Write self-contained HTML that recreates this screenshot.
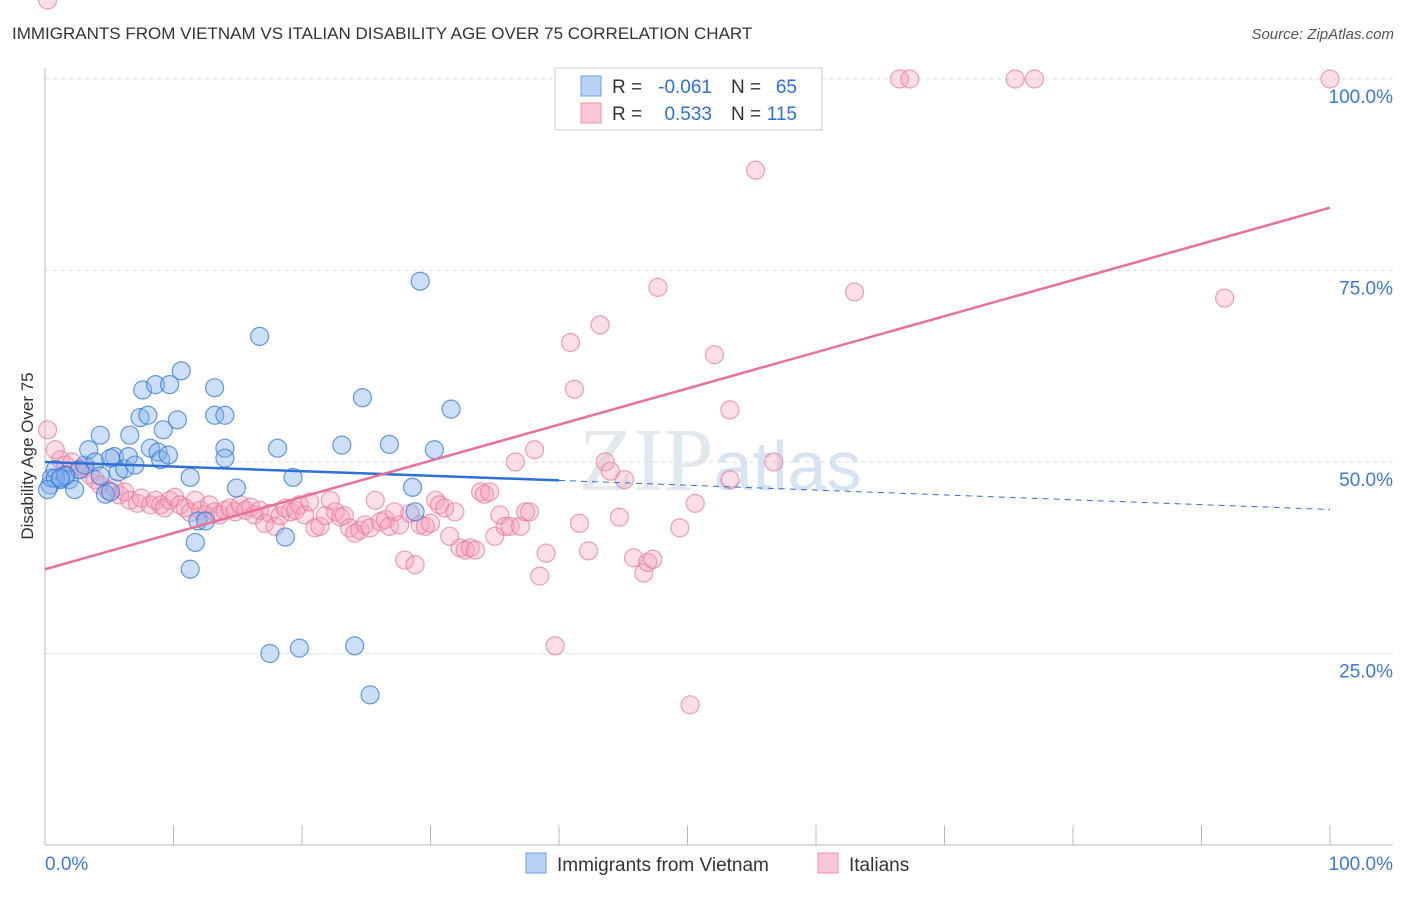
<!DOCTYPE html>
<html><head><meta charset="utf-8"><style>
body{margin:0;background:#fff;font-family:"Liberation Sans",sans-serif}
</style></head><body>
<svg id="c" width="1406" height="892" xmlns="http://www.w3.org/2000/svg" style="font-family:'Liberation Sans',sans-serif">
<text x="12" y="39" font-size="17" fill="#333">IMMIGRANTS FROM VIETNAM VS ITALIAN DISABILITY AGE OVER 75 CORRELATION CHART</text>
<text x="1394" y="39" font-size="15" fill="#555" text-anchor="end" font-style="italic">Source: ZipAtlas.com</text>
<text x="720" y="490" font-size="90" fill="#e3e8ee" text-anchor="middle" font-family="Liberation Serif">ZIP<tspan fill="#d5e3f3" font-family="Liberation Sans" font-size="70">atlas</tspan></text>
<g id="grid"></g><g id="pts"></g><g id="lines"></g>
<text transform="translate(33,456) rotate(-90)" font-size="17" fill="#333" text-anchor="middle">Disability Age Over 75</text>
<g>
<rect x="555" y="68" width="267" height="62" fill="#fff" stroke="#ccc"/>
<rect x="581" y="76" width="20" height="20" fill="#b8d2f5" stroke="#6f9fe0"/>
<rect x="581" y="103" width="20" height="20" fill="#f9c7d5" stroke="#ec8fab"/>
<text x="612" y="93" font-size="19" fill="#333">R =</text>
<text x="712" y="93" font-size="19" fill="#2f6fd6" text-anchor="end">-0.061</text>
<text x="731" y="93" font-size="19" fill="#333">N =</text>
<text x="797" y="93" font-size="19" fill="#2f6fd6" text-anchor="end">65</text>
<text x="612" y="120" font-size="19" fill="#333">R =</text>
<text x="712" y="120" font-size="19" fill="#2f6fd6" text-anchor="end">0.533</text>
<text x="731" y="120" font-size="19" fill="#333">N =</text>
<text x="797" y="120" font-size="19" fill="#2f6fd6" text-anchor="end">115</text>
</g>
<g>
<rect x="526" y="853" width="20" height="20" fill="#b8d2f5" stroke="#6f9fe0"/>
<text x="557" y="871" font-size="19" fill="#333">Immigrants from Vietnam</text>
<rect x="818" y="853" width="20" height="20" fill="#f9c7d5" stroke="#ec8fab"/>
<text x="849" y="871" font-size="19" fill="#333">Italians</text>
</g>
</svg>
<script>
const yTicks=[25,50,75,100];
const yTickLabels=["25.0%","50.0%","75.0%","100.0%"];
const xTickLabels=["0.0%","100.0%"];
const blueX=[0.4,0.5,0.8,1.2,1.6,1.9,2.3,2.7,3.1,3.4,3.9,4.3,4.7,5.1,5.4,5.7,6.2,6.5,6.6,7.0,7.4,7.6,8.0,8.2,8.6,8.8,9.0,9.2,9.6,9.7,10.3,10.6,11.3,11.7,11.9,12.5,11.3,13.2,13.2,14.0,14.0,14.0,14.9,16.7,17.5,18.1,18.7,19.3,19.8,23.1,24.1,24.7,25.3,26.8,28.6,28.8,29.2,30.3,31.6,0.8,1.6,4.3,5.1,0.2,1.2];
const blueY=[47.0,47.9,49.0,47.7,48.3,47.7,46.4,49.0,49.6,51.6,50.0,53.5,45.8,46.1,50.7,48.7,49.1,50.7,53.5,49.6,55.8,59.4,56.1,51.8,60.1,51.3,50.3,54.2,50.9,60.1,55.5,61.9,48.0,39.5,42.3,42.3,36.0,59.7,56.1,56.1,51.8,50.5,46.6,66.4,25.0,51.8,40.2,48.0,25.7,52.2,26.0,58.4,19.6,52.3,46.7,43.5,73.6,51.6,56.9,47.9,48.2,48.2,50.5,46.4,47.9];
const pinkX=[0.2,0.8,1.2,1.6,2.1,2.6,3.1,3.5,3.9,4.3,4.9,5.4,5.8,6.2,6.6,7.2,7.5,8.2,8.6,9.0,9.3,9.7,10.1,10.5,10.9,11.3,11.7,12.1,12.5,12.8,13.2,13.6,14.0,14.4,14.8,15.2,15.6,16.0,16.3,16.7,17.1,17.5,17.9,18.3,18.7,19.1,19.5,19.8,20.2,20.6,21.0,21.4,21.8,22.2,22.6,23.0,23.3,23.7,24.1,24.5,24.9,25.3,25.7,26.1,26.5,26.8,27.2,27.6,28.0,28.4,28.8,29.2,29.6,30.0,30.4,30.7,31.1,31.5,31.9,32.3,32.7,33.1,33.5,33.9,34.2,34.6,35.0,35.4,35.8,36.2,36.6,37.0,37.4,37.7,38.1,38.5,39.0,39.7,40.9,41.2,41.6,42.3,43.2,43.6,44.0,44.7,45.1,45.8,46.6,46.9,47.3,47.7,49.4,50.2,50.6,52.1,53.3,55.3,56.7,63.0,66.5,67.3,75.5,77.0,91.8,100,54.1,58.0,53.3,0.2];
const pinkY=[54.2,51.6,50.3,49.6,50.0,49.0,49.2,48.3,47.7,47.0,46.3,46.6,45.7,46.1,45.0,44.6,45.3,44.4,45.0,44.4,44.0,45.0,45.4,44.4,44.0,43.4,45.0,43.7,43.1,44.4,43.5,43.1,43.7,44.0,43.5,44.4,43.7,44.1,43.1,43.7,42.0,43.3,41.6,43.0,44.0,43.5,43.7,44.4,43.1,44.8,41.4,41.6,43.0,45.0,43.5,42.8,43.0,41.4,40.7,41.1,41.8,41.4,45.0,42.2,42.5,41.6,43.5,41.8,37.2,43.3,36.6,41.8,41.6,42.0,45.0,44.4,44.0,40.3,43.5,38.8,38.5,38.8,38.5,46.1,45.8,46.1,40.3,43.1,41.6,41.6,50.0,41.6,43.5,43.5,51.6,35.1,38.1,26.0,65.6,59.5,42.0,38.4,67.9,50.0,48.8,42.8,47.7,37.5,35.5,36.9,37.3,72.8,41.4,18.3,44.6,64.0,56.8,88.1,50.0,72.2,100,100,100,100,71.4,100,100,100,47.7];
const px=v=>45+v*12.85, py=v=>845-v*7.66;
const ns="http://www.w3.org/2000/svg";
function mk(t,a,p){const e=document.createElementNS(ns,t);for(const k in a)e.setAttribute(k,a[k]);p.appendChild(e);return e;}
const g=document.getElementById('grid');
yTicks.forEach((v,i)=>{
 const l=mk('line',{x1:45,x2:1393,y1:py(v),y2:py(v),stroke:'#ddd','stroke-dasharray':'4,4'},g);
 
 
 const t=mk('text',{x:1393,y:py(v)+24,'font-size':19,fill:'#3b78d8','text-anchor':'end'},g);
 t.textContent=yTickLabels[i];
 
 
});
mk('line',{x1:45,x2:45,y1:68,y2:845,stroke:'#bbb'},g);
mk('line',{x1:45,x2:1393,y1:845,y2:845,stroke:'#bbb'},g);
for(let i=1;i<=10;i++){const x=px(i*10);const l=mk('line',{x1:x,x2:x,y1:825,y2:845,stroke:'#bbb'},g);
 
 }
[[0,45,'start'],[1,1393,'end']].forEach(([i,x,a])=>{const t=mk('text',{x:x,y:870,'font-size':19,fill:'#3b78d8','text-anchor':a},g);t.textContent=xTickLabels[i];
 
 });
const p=document.getElementById('pts');
pinkX.forEach((v,i)=>{const c=mk('circle',{cx:px(v),cy:py(pinkY[i]),r:9,fill:'rgba(245,160,185,0.35)',stroke:'rgba(232,120,155,0.7)','stroke-width':1.2},p);
 
 });
blueX.forEach((v,i)=>{const c=mk('circle',{cx:px(v),cy:py(blueY[i]),r:9,fill:'rgba(130,175,235,0.4)',stroke:'rgba(50,120,215,0.75)','stroke-width':1.2},p);
 
 });
const L=document.getElementById('lines');
let e=mk('line',{x1:px(0),y1:py(50),x2:px(40),y2:py(47.6),stroke:'#2f6fd6','stroke-width':2.5},L);

e=mk('line',{x1:px(40),y1:py(47.6),x2:px(100),y2:py(43.8),stroke:'#2f6fd6','stroke-width':1,'stroke-dasharray':'6,5'},L);

e=mk('line',{x1:px(0),y1:py(36),x2:px(100),y2:py(83.2),stroke:'#e8709a','stroke-width':2.5},L);

</script>
</body></html>
